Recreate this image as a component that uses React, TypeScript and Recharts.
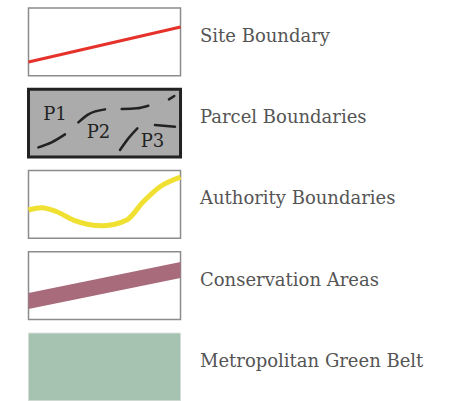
import React from 'react';
import { ComposedChart, XAxis, YAxis, Line, Area, Scatter, ReferenceArea } from 'recharts';

// Legend entries (one row each). Swatch-local units: x 0..100 across, y 0..100 down.
const legendLabels = [
  'Site Boundary',
  'Parcel Boundaries',
  'Authority Boundaries',
  'Conservation Areas',
  'Metropolitan Green Belt',
];

const siteBoundaryLine = [
  { x: 0, y: 79.8 },
  { x: 100, y: 28 },
];

const parcelStrokes = [
  [{ x: 6.5, y: 85.8 }, { x: 15.2, y: 78.4 }, { x: 24, y: 66.6 }],
  [{ x: 32.8, y: 48.9 }, { x: 39.4, y: 37 }, { x: 50.3, y: 29.7 }],
  [{ x: 61.3, y: 29.2 }, { x: 71.2, y: 28.2 }, { x: 78.8, y: 24.3 }],
  [{ x: 92.4, y: 14.9 }, { x: 95.9, y: 10 }],
  [{ x: 60.2, y: 89.7 }, { x: 65.7, y: 72.5 }, { x: 71.6, y: 57.7 }],
  [{ x: 83.2, y: 52.8 }, { x: 96.4, y: 55.3 }],
];

const parcelTags = [
  { label: 'P1', x: 9.7, y: 45.4 },
  { label: 'P2', x: 38.3, y: 72.5 },
  { label: 'P3', x: 73.8, y: 84.9 },
];

const authorityCurve = [
  { x: 0, y: 58.3 },
  { x: 8.7, y: 54.9 },
  { x: 18.6, y: 60.9 },
  { x: 29.5, y: 73.1 },
  { x: 49.2, y: 81.5 },
  { x: 64.6, y: 73.1 },
  { x: 75.5, y: 46.1 },
  { x: 86.5, y: 23.9 },
  { x: 100, y: 9.6 },
];

const conservationBand = [
  { x: 0, top: 60.9, bottom: 84.6 },
  { x: 100, top: 15.1, bottom: 38.8 },
];

// layout constants
const ROW_STEP = 120;
const SWATCH = 100;
const LABEL_X = 112.8;
const X_DOMAIN: [number, number] = [-18.75, 284.5];
const Y_DOMAIN: [number, number] = [-11.8, 580.3];
const FONT = '"DejaVu Serif", serif';

const shift = (pts: { x: number; y: number }[], row: number) =>
  pts.map((p) => ({ x: p.x, y: p.y + row * ROW_STEP }));

const labelRows = legendLabels.map((label, i) => ({ x: LABEL_X, y: i * ROW_STEP + SWATCH / 2, label }));
const tagRows = parcelTags.map((t) => ({ x: t.x, y: t.y + ROW_STEP, label: t.label }));
const bandRows = conservationBand.map((b) => ({ x: b.x, top: b.top + 3 * ROW_STEP, bottom: b.bottom + 3 * ROW_STEP }));

const LabelShape = (props: any) => (
  <text x={props.cx} y={props.cy} fontFamily={FONT} fontSize={18} fill="#555" dominantBaseline="alphabetic">
    {props.payload.label}
  </text>
);

const TagShape = (props: any) => (
  <text x={props.cx} y={props.cy} fontFamily={FONT} fontSize={18} fill="#222" dominantBaseline="alphabetic">
    {props.payload.label}
  </text>
);

const boxY = (row: number) => ({ y1: row * ROW_STEP, y2: row * ROW_STEP + SWATCH });

export default function App() {
  return (
    <div style={{ position: 'absolute', left: 0, top: 0, width: 461, height: 401, background: '#fff' }}>
      <ComposedChart width={461} height={401} margin={{ top: 0, right: 0, bottom: 0, left: 0 }}>
        <XAxis type="number" dataKey="x" domain={X_DOMAIN} hide allowDataOverflow />
        <YAxis type="number" dataKey="y" domain={Y_DOMAIN} reversed hide allowDataOverflow />

        <ReferenceArea x1={0} x2={SWATCH} {...boxY(0)} fill="#fff" fillOpacity={1} stroke="#8c8c8c" strokeWidth={1.5} ifOverflow="visible" />
        <ReferenceArea x1={0} x2={SWATCH} {...boxY(1)} fill="#ababab" fillOpacity={1} stroke="#222" strokeWidth={3} ifOverflow="visible" />
        <ReferenceArea x1={0} x2={SWATCH} {...boxY(2)} fill="#fff" fillOpacity={1} stroke="#8c8c8c" strokeWidth={1.5} ifOverflow="visible" />
        <ReferenceArea x1={0} x2={SWATCH} {...boxY(3)} fill="#fff" fillOpacity={1} stroke="#8c8c8c" strokeWidth={1.5} ifOverflow="visible" />
        <ReferenceArea x1={0} x2={SWATCH} {...boxY(4)} fill="#a6c2b0" fillOpacity={1} stroke="#d5ddd8" strokeWidth={1} ifOverflow="visible" />

        <Area
          data={bandRows}
          dataKey={(d: any) => [d.top, d.bottom]}
          type="linear"
          stroke="none"
          fill="#a86b7b"
          fillOpacity={1}
          dot={false}
          activeDot={false}
          isAnimationActive={false}
        />

        <Line data={shift(siteBoundaryLine, 0)} dataKey="y" type="linear" stroke="#e5322b" strokeWidth={3} dot={false} activeDot={false} isAnimationActive={false} />

        {parcelStrokes.map((s, i) => (
          <Line
            key={'ps' + i}
            data={shift(s, 1)}
            dataKey="y"
            type="monotone"
            stroke="#222"
            strokeWidth={2.5}
            strokeLinecap="round"
            dot={false}
            activeDot={false}
            isAnimationActive={false}
          />
        ))}

        <Line data={shift(authorityCurve, 2)} dataKey="y" type="monotone" stroke="#f0e031" strokeWidth={5} dot={false} activeDot={false} isAnimationActive={false} />

        <Scatter data={tagRows} shape={TagShape} isAnimationActive={false} />
        <Scatter data={labelRows} shape={LabelShape} isAnimationActive={false} />
      </ComposedChart>
    </div>
  );
}
